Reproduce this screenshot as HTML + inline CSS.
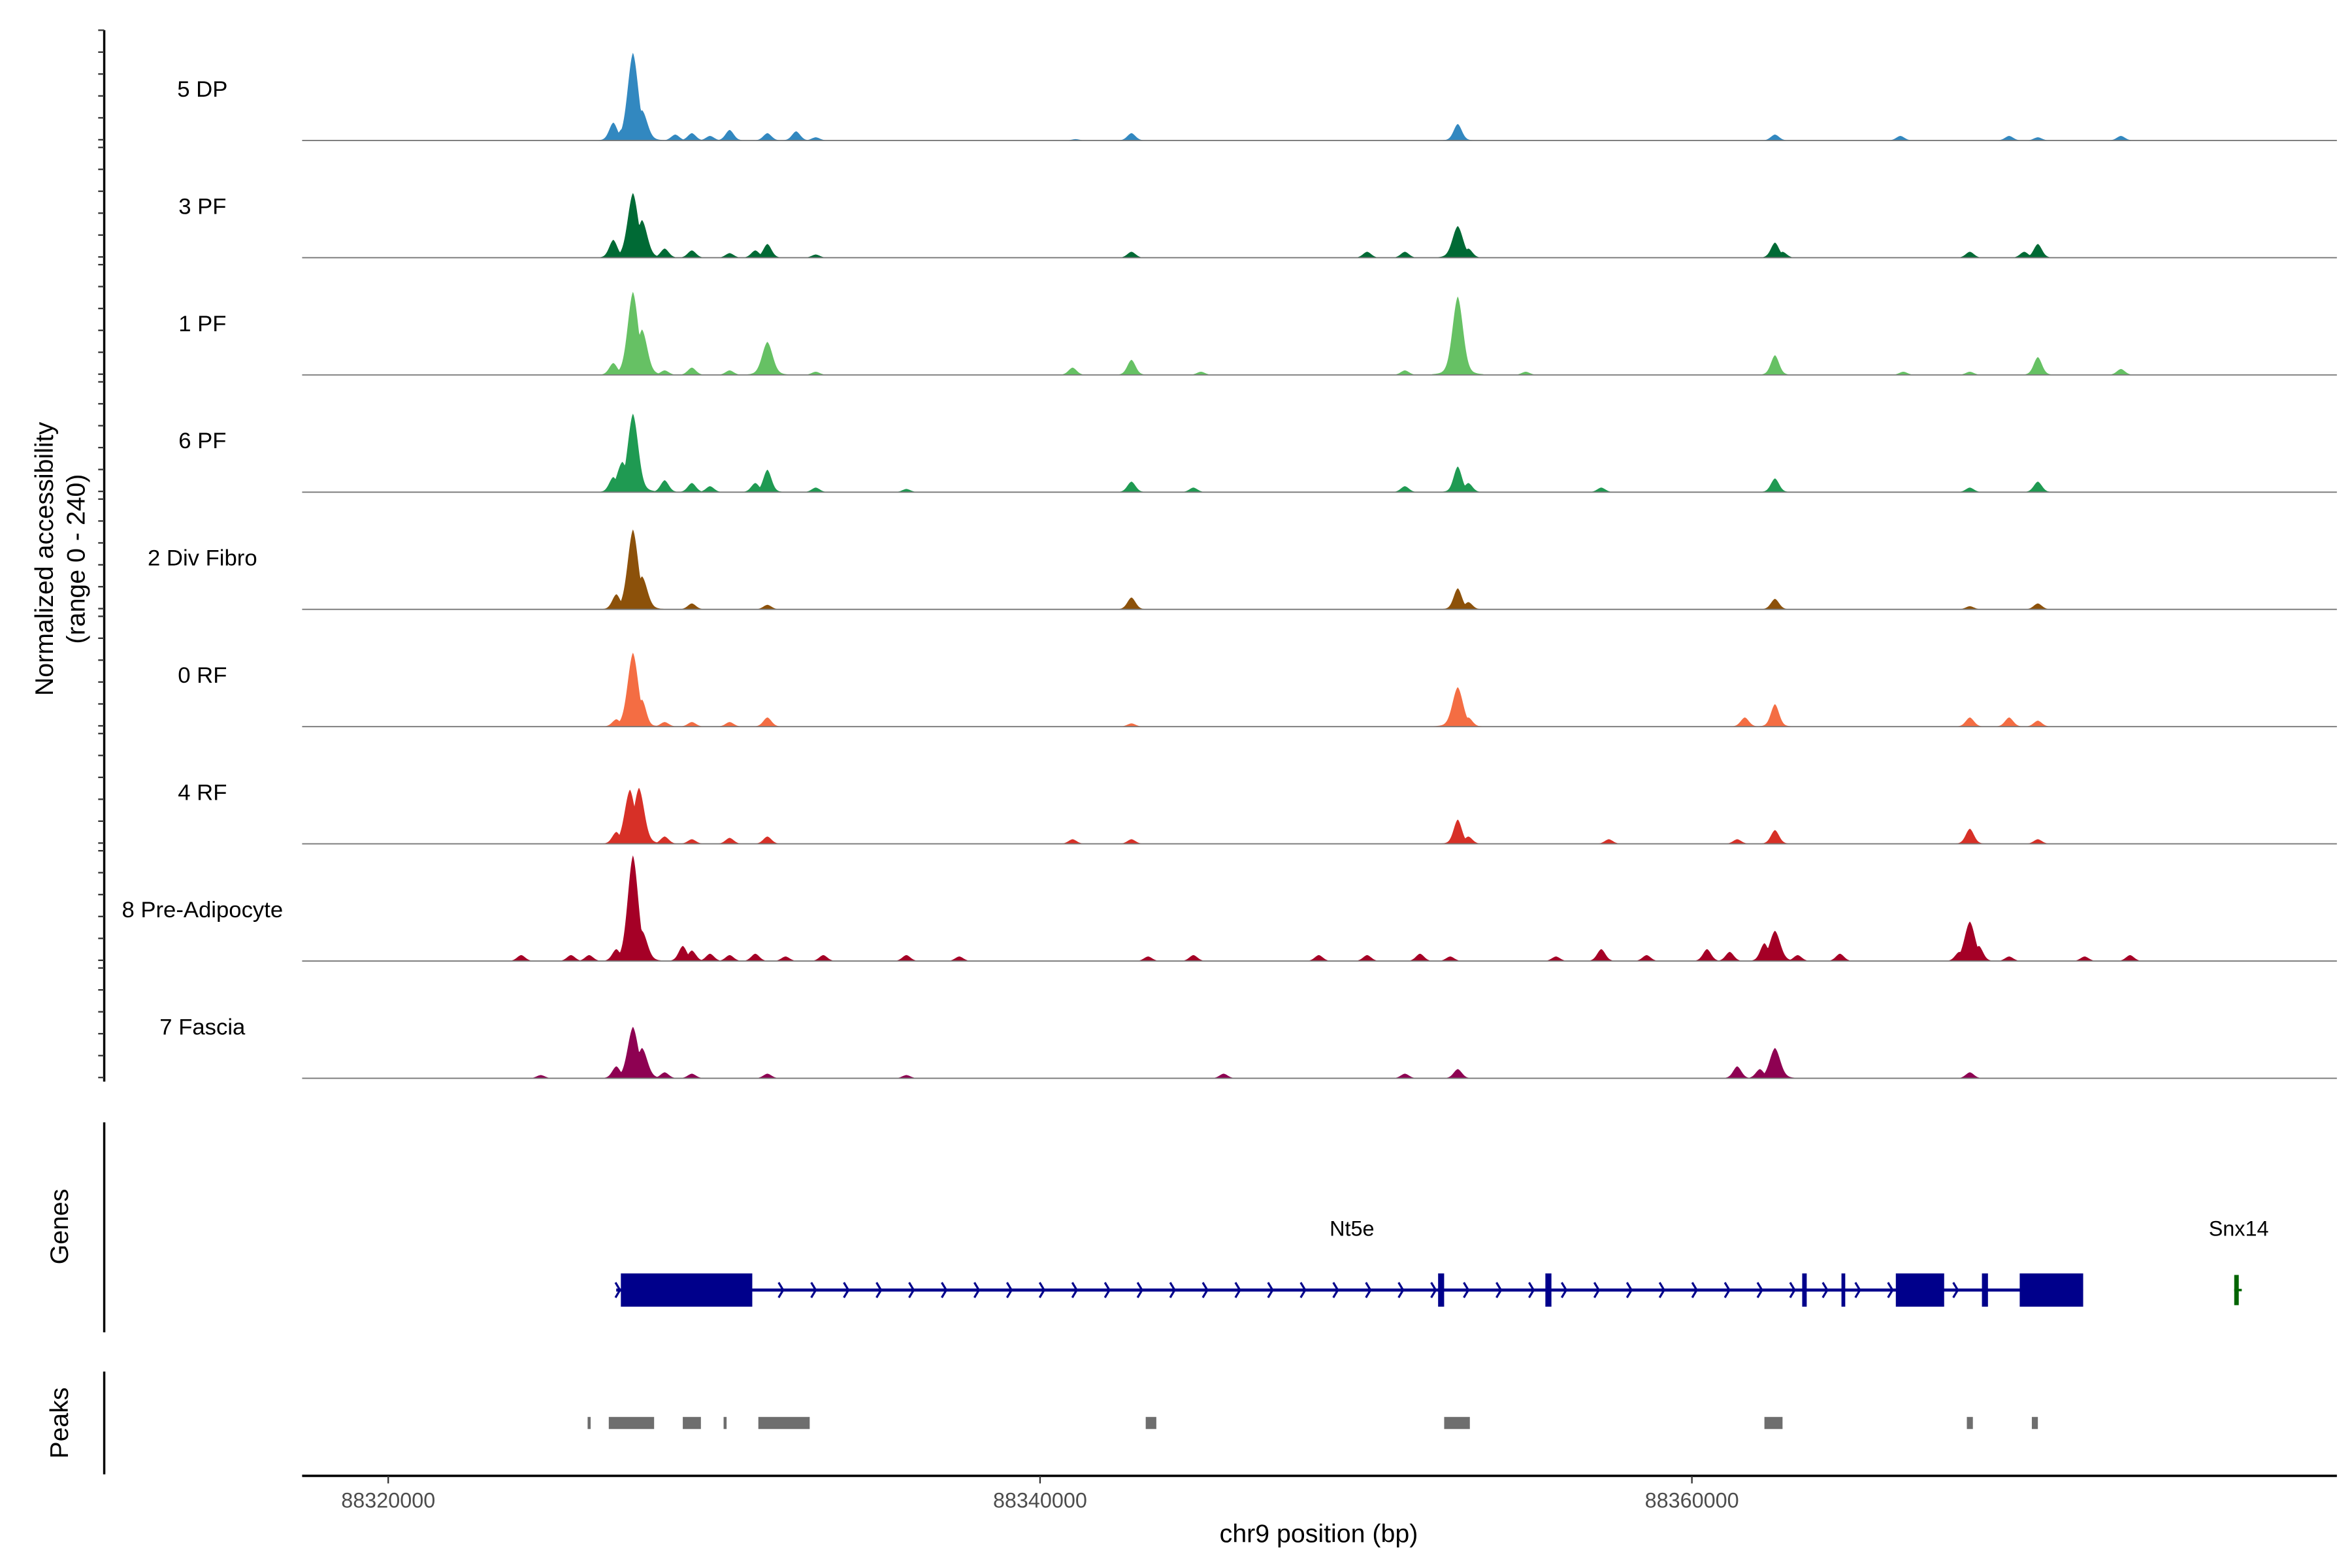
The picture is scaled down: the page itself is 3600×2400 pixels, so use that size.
<!DOCTYPE html>
<html><head><meta charset="utf-8"><style>
html,body{margin:0;padding:0;background:#fff}
svg{display:block}
text{font-family:"Liberation Sans",sans-serif}
</style></head><body>
<svg id="chart" width="3600" height="2400" viewBox="0 0 1557 1038" preserveAspectRatio="none" xmlns="http://www.w3.org/2000/svg">
<g id="tracks"></g>
<g id="yaxis"></g>
<text transform="translate(35,370) rotate(-90)" text-anchor="middle" font-size="17">Normalized accessibility</text>
<text transform="translate(56,370) rotate(-90)" text-anchor="middle" font-size="17">(range 0 - 240)</text>
<line x1="69" y1="743" x2="69" y2="882" stroke="#000" stroke-width="1.5"/>
<text transform="translate(45,812) rotate(-90)" text-anchor="middle" font-size="17">Genes</text>
<line x1="69" y1="908" x2="69" y2="976" stroke="#000" stroke-width="1.5"/>
<text transform="translate(45,942) rotate(-90)" text-anchor="middle" font-size="17">Peaks</text>
<g id="genes"></g>
<g id="peaks"></g>
<g id="xaxis"></g>
<text x="873" y="1021" text-anchor="middle" font-size="17">chr9 position (bp)</text>
</svg>
<script>
const trackNames = ["5 DP","3 PF","1 PF","6 PF","2 Div Fibro","0 RF","4 RF","8 Pre-Adipocyte","7 Fascia"];
const trackColors = ["#3288c0","#006a35","#66c164","#1f9a52","#8c510a","#f46d43","#d73027","#a50026","#8e0152"];
const pos5DP = [88326906,88327184,88327509,88327787,88328807,88329316,88329873,88330475,88331634,88332515,88333117,88341089,88342804,88352816,88362549,88366396,88369733,88370614,88373163];
const val5DP = [39,26,191,66,13,16,10,23,16,20,7,3,16,36,13,10,10,7,10];
const pos3PF = [88326906,88327509,88327787,88328482,88329316,88330475,88331263,88331634,88333117,88342804,88350035,88351194,88352816,88353140,88362549,88362781,88368528,88370197,88370614];
const val3PF = [39,141,82,20,16,10,16,30,7,13,13,13,69,20,33,13,13,13,30];
const pos1PF = [88326906,88327509,88327787,88328482,88329316,88330475,88331634,88333117,88340997,88342804,88344936,88351194,88352816,88354902,88362549,88366489,88368528,88370614,88373163];
const val1PF = [26,181,99,10,16,10,72,7,16,33,7,10,171,7,43,7,7,39,13];
const pos6PF = [88326906,88327184,88327509,88328482,88329316,88329873,88331263,88331634,88333117,88335898,88342804,88344705,88351194,88352816,88353140,88357219,88362549,88368528,88370614];
const val6PF = [33,66,171,26,20,13,20,49,10,7,23,10,13,56,20,10,30,10,23];
const posDiv = [88326999,88327509,88327787,88329316,88331634,88342804,88352816,88353140,88362549,88368528,88370614];
const valDiv = [33,174,72,13,10,26,46,16,23,7,13];
const pos0RF = [88326999,88327509,88327787,88328482,88329316,88330475,88331634,88342804,88352816,88353140,88361623,88362549,88368528,88369733,88370614];
const val0RF = [16,161,59,10,10,10,20,7,86,20,20,49,20,20,13];
const pos4RF = [88326999,88327416,88327694,88328482,88329316,88330475,88331634,88340997,88342804,88352816,88353140,88357451,88361391,88362549,88368528,88370614];
const val4RF = [26,118,122,16,10,13,16,10,10,53,16,10,10,30,33,10];
const pos8PA = [88324079,88325608,88326165,88326999,88327509,88327787,88329038,88329316,88329873,88330475,88331263,88332190,88333349,88335898,88337521,88343314,88344705,88348552,88350035,88351657,88352584,88355829,88357219,88358610,88360464,88361159,88362225,88362549,88363245,88364542,88368204,88368528,88368806,88369733,88372051,88373442];
const val8PA = [13,13,13,26,230,66,33,23,16,13,16,10,13,13,10,10,13,13,13,16,10,10,26,13,26,20,39,66,13,16,20,86,33,10,10,13];
const pos7F = [88324681,88326999,88327509,88327787,88328482,88329316,88331634,88335898,88345632,88351194,88352816,88361391,88362086,88362549,88368528];
const val7F = [7,26,112,66,13,10,10,7,10,10,20,26,20,66,13];
const trackPos = [pos5DP,pos3PF,pos1PF,pos6PF,posDiv,pos0RF,pos4RF,pos8PA,pos7F];
const trackVal = [val5DP,val3PF,val1PF,val6PF,valDiv,val0RF,val4RF,val8PA,val7F];
const xTicks = [88320000,88340000,88360000];
const xTickLabels = ["88320000","88340000","88360000"];
const exonStarts = [88327138,88352213,88355504,88363384,88364589,88366257,88368899,88370058];
const exonEnds = [88331170,88352398,88355690,88363523,88364681,88367740,88369084,88372005];
const geneStart = 88326995, geneEnd = 88372005;
const snx14Start = 88376640, snx14End = 88376779;
const peakStarts = [88326118,88326767,88329038,88330290,88331356,88343242,88352399,88362225,88368436,88370430];
const peakEnds = [88326211,88328158,88329594,88330382,88332932,88343567,88353187,88362781,88368621,88370615];

const NS="http://www.w3.org/2000/svg";
const X0=88317358, X1=88379790, PX0=200, PX1=1547;
function xs(bp){return PX0+(bp-X0)*(PX1-PX0)/(X1-X0);}
const TRACK_H=77.6, TOP0=20, RANGE=240, PLOT_H=73;
function mk(tag,attrs,parent){const e=document.createElementNS(NS,tag);for(const k in attrs)e.setAttribute(k,attrs[k]);parent.appendChild(e);return e;}

const tg=document.getElementById('tracks');
trackNames.forEach((name,i)=>{
  const base=TOP0+(i+1)*TRACK_H-4.6;
  const g=mk('g',{},tg);
  
  
  const sig=140;
  const pts=[];
  const ps=trackPos[i], vs=trackVal[i];
  for(let px=PX0;px<=PX1;px+=0.5){
    const bp=X0+(px-PX0)*(X1-X0)/(PX1-PX0);
    let v=0;
    for(let k=0;k<ps.length;k++){const d=(bp-ps[k])/(sig*(vs[k]>60?1.15:0.9));if(Math.abs(d)<5){const h=vs[k]*(0.8*Math.exp(-d*d/2)+0.2*Math.exp(-Math.abs(d)/1.6));if(h>v)v=h;}}
    pts.push(px.toFixed(1)+','+(base-v/RANGE*PLOT_H).toFixed(2));
  }
  const area=mk('path',{d:'M'+PX0+','+base+' L'+pts.join(' L')+' L'+PX1+','+base+' Z',fill:trackColors[i],stroke:'none'},g);
  
  
  const bl=mk('line',{x1:PX0,x2:PX1,y1:base,y2:base,stroke:'#777','stroke-width':0.8},g);
  
  
  const lab=mk('text',{x:134,y:base-29,'text-anchor':'middle','font-size':15},g);
  
  
  lab.textContent=name;
});

const ya=document.getElementById('yaxis');
mk('line',{x1:69,x2:69,y1:TOP0,y2:716,stroke:'#000','stroke-width':1.5},ya);
for(let i=0;i<9;i++){for(let k=0;k<=5;k++){const y=TOP0+i*TRACK_H+k*14.5;
  const t=mk('line',{x1:65,x2:69,y1:y,y2:y,stroke:'#333','stroke-width':1},ya);
  
  }}

const gg=document.getElementById('genes');
const GY=854, BLUE='#00008b';
const gl=mk('line',{x1:xs(geneStart),x2:xs(geneEnd),y1:GY,y2:GY,stroke:BLUE,'stroke-width':2},gg);


for(let x=xs(geneStart)+1;x<xs(geneEnd);x+=21.6){
  let inEx=false;for(let k=0;k<exonStarts.length;k++){if(x>xs(exonStarts[k])-1&&x<xs(exonEnds[k])+1)inEx=true;}
  if(inEx)continue;
  const c=mk('path',{d:`M${x-1.5},${GY-5} L${x+1.5},${GY} L${x-1.5},${GY+5}`,stroke:BLUE,fill:'none','stroke-width':1.4},gg);
  
  
}
for(let k=0;k<exonStarts.length;k++){
  const x1=xs(exonStarts[k]),x2=xs(exonEnds[k]);
  const r=mk('rect',{x:x1,y:GY-11,width:Math.max(2.5,x2-x1),height:22,fill:BLUE},gg);
  
  
}
const n1=mk('text',{x:895,y:818,'text-anchor':'middle','font-size':14},gg);


n1.textContent='Nt5e';
const s1=mk('rect',{x:xs(snx14Start),y:GY-10,width:Math.max(2.5,xs(snx14End)-xs(snx14Start)),height:20,fill:'#006400'},gg);


mk('line',{x1:xs(snx14Start),x2:xs(snx14End)+2,y1:GY,y2:GY,stroke:'#006400','stroke-width':1.6},gg);
const n2=mk('text',{x:1482,y:818,'text-anchor':'middle','font-size':14},gg);


n2.textContent='Snx14';

const pg=document.getElementById('peaks');
for(let k=0;k<peakStarts.length;k++){
  const x1=xs(peakStarts[k]),x2=xs(peakEnds[k]);
  const r=mk('rect',{x:x1,y:938,width:Math.max(1.5,x2-x1),height:8,fill:'#6e6e6e'},pg);
  
  
}

const xa=document.getElementById('xaxis');
mk('line',{x1:PX0,x2:PX1,y1:977,y2:977,stroke:'#000','stroke-width':1.6},xa);
xTicks.forEach((t,i)=>{
  const x=xs(t);
  const tk=mk('line',{x1:x,x2:x,y1:977,y2:982,stroke:'#333','stroke-width':1},xa);
  
  
  const lb=mk('text',{x:x,y:998,'text-anchor':'middle','font-size':14,fill:'#4d4d4d'},xa);
  
  
  lb.textContent=xTickLabels[i];
});
</script>
</body></html>
